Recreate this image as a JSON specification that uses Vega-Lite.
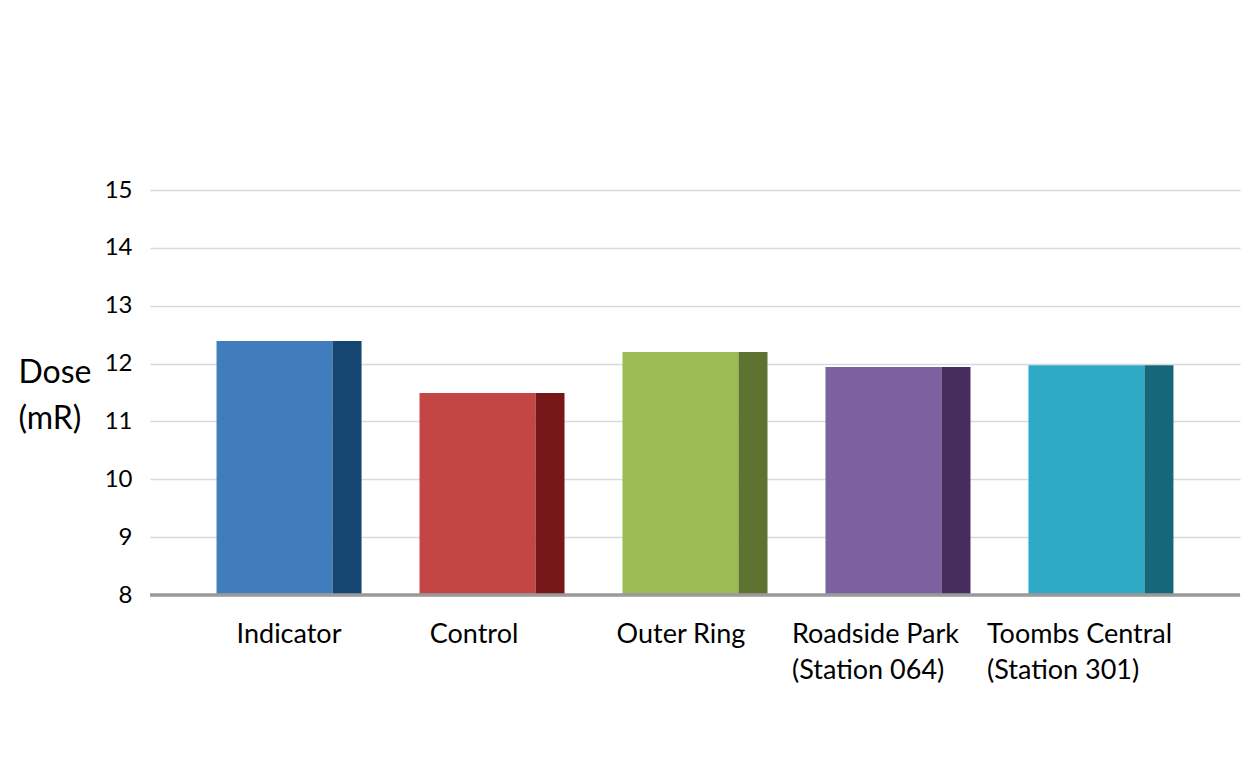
{
  "$schema": "https://vega.github.io/schema/vega-lite/v6.json",
  "width": 1090,
  "height": 405,
  "autosize": {"type": "none"},
  "padding": {"left": 150, "top": 190, "right": 15, "bottom": 173},
  "background": "white",
  "config": {"view": {"stroke": null}, "font": "Lato"},
  "data": {
    "values": [
      {"site": "Indicator", "dose": 12.39},
      {"site": "Control", "dose": 11.49},
      {"site": "Outer Ring", "dose": 12.2},
      {"site": "Roadside Park (Station 064)", "dose": 11.94},
      {"site": "Toombs Central (Station 301)", "dose": 11.97}
    ]
  },
  "encoding": {
    "x": {
      "field": "site",
      "type": "nominal",
      "sort": null,
      "scale": {"paddingInner": 0, "paddingOuter": 0.185},
      "axis": {
        "title": null,
        "domain": false,
        "ticks": false,
        "grid": false,
        "labelAngle": 0,
        "labelFontSize": 27,
        "labelColor": "#000000",
        "labelPadding": 26,
        "labelLineHeight": 36,
        "labelLimit": 300,
        "labelExpr": "indexof(datum.label,' (') > 0 ? [slice(datum.label,0,indexof(datum.label,' (')), slice(datum.label,indexof(datum.label,' (')+1)] : datum.label",
        "labelAlign": {"condition": {"test": "indexof(datum.value,' (') > 0", "value": "left"}, "value": "center"},
        "labelOffset": {
          "condition": [
            {"test": "datum.value == 'Control'", "value": -18},
            {"test": "datum.value == 'Outer Ring'", "value": -14},
            {"test": "datum.value == 'Roadside Park (Station 064)'", "value": -106},
            {"test": "datum.value == 'Toombs Central (Station 301)'", "value": -114}
          ],
          "value": 0
        }
      }
    }
  },
  "layer": [
    {
      "mark": {"type": "bar", "width": 116, "xOffset": -14.5},
      "encoding": {
        "y": {
          "field": "dose",
          "type": "quantitative",
          "scale": {"domain": [8, 15], "zero": false, "nice": false},
          "axis": {
            "values": [8, 9, 10, 11, 12, 13, 14, 15],
            "format": "d",
            "grid": true,
            "domain": false,
            "ticks": false,
            "gridColor": "#d9d9d9",
            "gridWidth": 1.5,
            "labelFontSize": 24,
            "labelColor": "#000000",
            "labelPadding": 18,
            "title": ["Dose", "(mR)"],
            "titleAngle": 0,
            "titleFontSize": 32,
            "titleFontWeight": "normal",
            "titleColor": "#000000",
            "titleAlign": "left",
            "titleBaseline": "middle",
            "titleLineHeight": 46,
            "titleX": -132,
            "titleY": 182
          }
        },
        "y2": {"datum": 8},
        "color": {
          "field": "site",
          "type": "nominal",
          "sort": null,
          "legend": null,
          "scale": {"range": ["#417dbd", "#c34644", "#9bbb53", "#7d60a0", "#2eaac7"]}
        }
      }
    },
    {
      "mark": {"type": "bar", "width": 29, "xOffset": 58},
      "encoding": {
        "y": {"field": "dose", "type": "quantitative"},
        "y2": {"datum": 8},
        "color": {
          "field": "site",
          "type": "nominal",
          "sort": null,
          "legend": null,
          "scale": {"range": ["#154672", "#761817", "#5e7331", "#472d5e", "#17677a"]}
        }
      }
    },
    {
      "mark": {"type": "rule", "color": "#9a9a9a", "strokeWidth": 2.5},
      "encoding": {"y": {"datum": 8, "type": "quantitative"}, "x": null}
    }
  ],
  "resolve": {"scale": {"color": "independent"}}
}
